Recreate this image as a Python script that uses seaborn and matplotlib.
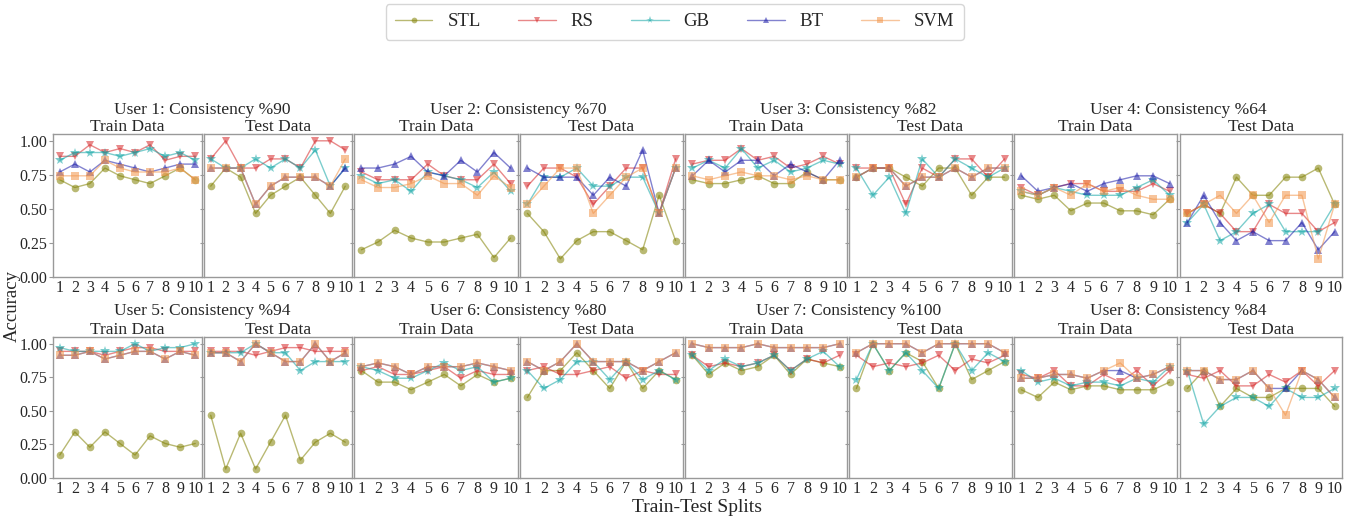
import numpy as np
import pandas as pd
import matplotlib
matplotlib.use("Agg")
import matplotlib.pyplot as plt
from matplotlib.lines import Line2D
import seaborn as sns

# ---------------- data ----------------
METHODS = ["STL", "RS", "GB", "BT", "SVM"]
SPLITS = list(range(1, 11))
CONSISTENCY = [90, 70, 82, 64, 94, 80, 100, 84]

STL_TRAIN = [
    [0.714, 0.657, 0.686, 0.800, 0.743, 0.714, 0.686, 0.743, 0.800, 0.714],
    [0.200, 0.257, 0.343, 0.286, 0.257, 0.257, 0.286, 0.314, 0.143, 0.286],
    [0.714, 0.686, 0.686, 0.714, 0.743, 0.686, 0.686, 0.771, 0.714, 0.714],
    [0.600, 0.571, 0.600, 0.486, 0.543, 0.543, 0.486, 0.486, 0.457, 0.571],
    [0.171, 0.343, 0.229, 0.343, 0.257, 0.171, 0.314, 0.257, 0.229, 0.257],
    [0.800, 0.714, 0.714, 0.657, 0.714, 0.771, 0.686, 0.771, 0.714, 0.743],
    [0.914, 0.771, 0.857, 0.800, 0.829, 0.914, 0.771, 0.886, 0.857, 0.829],
    [0.657, 0.600, 0.714, 0.657, 0.686, 0.686, 0.657, 0.657, 0.657, 0.714],
]
STL_TEST = [
    [0.667, 0.800, 0.733, 0.467, 0.600, 0.667, 0.733, 0.600, 0.467, 0.667],
    [0.467, 0.333, 0.133, 0.267, 0.333, 0.333, 0.267, 0.200, 0.600, 0.267],
    [0.733, 0.800, 0.800, 0.733, 0.667, 0.800, 0.800, 0.600, 0.733, 0.733],
    [0.467, 0.533, 0.467, 0.733, 0.600, 0.600, 0.733, 0.733, 0.800, 0.533],
    [0.467, 0.067, 0.333, 0.067, 0.267, 0.467, 0.133, 0.267, 0.333, 0.267],
    [0.600, 0.800, 0.800, 0.933, 0.800, 0.667, 0.867, 0.667, 0.800, 0.733],
    [0.667, 1.000, 0.800, 0.933, 0.867, 0.667, 1.000, 0.733, 0.800, 0.867],
    [0.667, 0.800, 0.533, 0.667, 0.600, 0.600, 0.667, 0.667, 0.667, 0.533],
]
RS_TRAIN = [
    [0.886, 0.886, 0.971, 0.914, 0.943, 0.914, 0.971, 0.857, 0.886, 0.886],
    [0.771, 0.714, 0.714, 0.714, 0.829, 0.743, 0.714, 0.714, 0.829, 0.686],
    [0.829, 0.857, 0.857, 0.943, 0.857, 0.886, 0.800, 0.829, 0.886, 0.829],
    [0.657, 0.600, 0.657, 0.686, 0.686, 0.629, 0.629, 0.629, 0.686, 0.629],
    [0.943, 0.943, 0.943, 0.914, 0.943, 0.971, 0.971, 0.943, 0.943, 0.943],
    [0.800, 0.829, 0.771, 0.771, 0.800, 0.829, 0.743, 0.800, 0.771, 0.771],
    [0.914, 0.829, 0.857, 0.829, 0.857, 0.914, 0.800, 0.886, 0.857, 0.914],
    [0.771, 0.743, 0.800, 0.686, 0.686, 0.771, 0.714, 0.800, 0.686, 0.800],
]
RS_TEST = [
    [0.867, 1.000, 0.800, 0.800, 0.867, 0.867, 0.800, 1.000, 1.000, 0.933],
    [0.667, 0.800, 0.800, 0.733, 0.533, 0.667, 0.800, 0.800, 0.467, 0.867],
    [0.800, 0.800, 0.800, 0.533, 0.800, 0.733, 0.867, 0.867, 0.733, 0.867],
    [0.467, 0.533, 0.467, 0.333, 0.333, 0.533, 0.467, 0.467, 0.333, 0.400],
    [0.943, 0.943, 0.943, 0.914, 0.943, 0.971, 0.971, 0.943, 0.943, 0.943],
    [0.800, 0.829, 0.771, 0.771, 0.800, 0.829, 0.743, 0.800, 0.771, 0.771],
    [0.914, 0.829, 0.857, 0.829, 0.857, 0.914, 0.800, 0.886, 0.857, 0.914],
    [0.771, 0.743, 0.800, 0.686, 0.686, 0.771, 0.714, 0.800, 0.686, 0.800],
]
GB_TRAIN = [
    [0.857, 0.914, 0.914, 0.914, 0.886, 0.914, 0.943, 0.886, 0.914, 0.857],
    [0.743, 0.686, 0.714, 0.629, 0.771, 0.743, 0.714, 0.657, 0.771, 0.629],
    [0.800, 0.857, 0.800, 0.943, 0.800, 0.857, 0.771, 0.800, 0.857, 0.829],
    [0.629, 0.600, 0.657, 0.629, 0.600, 0.600, 0.600, 0.657, 0.714, 0.600],
    [0.971, 0.943, 0.943, 0.943, 0.943, 1.000, 0.943, 0.971, 0.971, 1.000],
    [0.829, 0.800, 0.743, 0.743, 0.800, 0.857, 0.800, 0.829, 0.714, 0.743],
    [0.914, 0.800, 0.886, 0.829, 0.857, 0.914, 0.800, 0.886, 0.943, 0.829],
    [0.800, 0.714, 0.743, 0.686, 0.714, 0.714, 0.686, 0.743, 0.714, 0.829],
]
GB_TEST = [
    [0.867, 0.800, 0.800, 0.867, 0.800, 0.867, 0.800, 0.933, 0.667, 0.800],
    [0.533, 0.733, 0.733, 0.800, 0.667, 0.667, 0.733, 0.733, 0.467, 0.800],
    [0.800, 0.600, 0.733, 0.467, 0.867, 0.733, 0.867, 0.800, 0.733, 0.800],
    [0.400, 0.533, 0.267, 0.333, 0.467, 0.533, 0.333, 0.333, 0.333, 0.533],
    [0.933, 0.933, 0.933, 1.000, 0.933, 0.933, 0.800, 0.867, 0.867, 0.867],
    [0.800, 0.667, 0.733, 0.867, 0.867, 0.733, 0.867, 0.733, 0.800, 0.733],
    [0.733, 1.000, 0.800, 0.933, 0.800, 0.667, 1.000, 0.800, 0.933, 0.867],
    [0.800, 0.400, 0.533, 0.600, 0.600, 0.533, 0.667, 0.600, 0.600, 0.667],
]
BT_TRAIN = [
    [0.771, 0.829, 0.771, 0.857, 0.829, 0.800, 0.771, 0.800, 0.829, 0.829],
    [0.800, 0.800, 0.829, 0.886, 0.771, 0.743, 0.857, 0.771, 0.914, 0.800],
    [0.743, 0.857, 0.771, 0.857, 0.857, 0.743, 0.829, 0.771, 0.714, 0.857],
    [0.743, 0.629, 0.657, 0.686, 0.629, 0.686, 0.714, 0.743, 0.743, 0.686],
    [0.914, 0.914, 0.943, 0.886, 0.914, 0.943, 0.943, 0.886, 0.943, 0.914],
    [0.829, 0.857, 0.829, 0.771, 0.829, 0.829, 0.829, 0.857, 0.829, 0.800],
    [1.000, 0.971, 0.971, 0.971, 1.000, 0.971, 0.971, 0.971, 0.971, 1.000],
    [0.743, 0.743, 0.771, 0.771, 0.743, 0.800, 0.800, 0.743, 0.771, 0.829],
]
BT_TEST = [
    [0.800, 0.800, 0.800, 0.533, 0.667, 0.733, 0.733, 0.733, 0.667, 0.800],
    [0.800, 0.733, 0.733, 0.733, 0.600, 0.733, 0.667, 0.933, 0.467, 0.800],
    [0.733, 0.800, 0.800, 0.667, 0.733, 0.733, 0.800, 0.733, 0.800, 0.800],
    [0.400, 0.600, 0.400, 0.267, 0.333, 0.267, 0.267, 0.400, 0.200, 0.333],
    [0.933, 0.933, 0.867, 1.000, 0.933, 0.867, 0.867, 1.000, 0.867, 0.933],
    [0.867, 0.800, 0.867, 1.000, 0.867, 0.867, 0.867, 0.800, 0.867, 0.933],
    [0.933, 1.000, 1.000, 1.000, 0.933, 1.000, 1.000, 1.000, 1.000, 0.933],
    [0.800, 0.800, 0.733, 0.733, 0.800, 0.667, 0.667, 0.800, 0.733, 0.600],
]
SVM_TRAIN = [
    [0.743, 0.743, 0.743, 0.857, 0.800, 0.771, 0.771, 0.771, 0.800, 0.714],
    [0.714, 0.657, 0.657, 0.686, 0.743, 0.686, 0.686, 0.600, 0.743, 0.657],
    [0.743, 0.714, 0.743, 0.771, 0.743, 0.743, 0.714, 0.743, 0.714, 0.714],
    [0.629, 0.600, 0.657, 0.600, 0.686, 0.629, 0.657, 0.600, 0.571, 0.571],
    [0.914, 0.914, 0.943, 0.886, 0.914, 0.943, 0.943, 0.886, 0.943, 0.914],
    [0.829, 0.857, 0.829, 0.771, 0.829, 0.829, 0.829, 0.857, 0.829, 0.800],
    [1.000, 0.971, 0.971, 0.971, 1.000, 0.971, 0.971, 0.971, 0.971, 1.000],
    [0.743, 0.743, 0.771, 0.771, 0.743, 0.800, 0.857, 0.743, 0.771, 0.829],
]
SVM_TEST = [
    [0.800, 0.800, 0.800, 0.533, 0.667, 0.733, 0.733, 0.733, 0.667, 0.867],
    [0.533, 0.667, 0.800, 0.800, 0.467, 0.600, 0.733, 0.800, 0.467, 0.800],
    [0.733, 0.800, 0.800, 0.667, 0.733, 0.733, 0.800, 0.733, 0.800, 0.800],
    [0.467, 0.533, 0.600, 0.467, 0.600, 0.400, 0.600, 0.600, 0.133, 0.533],
    [0.933, 0.933, 0.867, 1.000, 0.933, 0.867, 0.867, 1.000, 0.867, 0.933],
    [0.867, 0.800, 0.867, 1.000, 0.867, 0.867, 0.867, 0.800, 0.867, 0.933],
    [0.933, 1.000, 1.000, 1.000, 0.933, 1.000, 1.000, 1.000, 1.000, 0.933],
    [0.800, 0.800, 0.733, 0.733, 0.800, 0.667, 0.467, 0.800, 0.733, 0.600],
]

SERIES = {
    ("STL", "Train"): STL_TRAIN, ("STL", "Test"): STL_TEST,
    ("RS", "Train"): RS_TRAIN, ("RS", "Test"): RS_TEST,
    ("GB", "Train"): GB_TRAIN, ("GB", "Test"): GB_TEST,
    ("BT", "Train"): BT_TRAIN, ("BT", "Test"): BT_TEST,
    ("SVM", "Train"): SVM_TRAIN, ("SVM", "Test"): SVM_TEST,
}

rows = []
for (m, part), arr in SERIES.items():
    for u, vals in enumerate(arr):
        for s, v in zip(SPLITS, vals):
            rows.append(dict(user=u + 1, part=part, method=m, split=s, acc=v))
df = pd.DataFrame(rows)

# ---------------- style ----------------
sns.set_style("white")
plt.rcParams["font.family"] = ["Liberation Serif", "DejaVu Serif"]
plt.rcParams["axes.edgecolor"] = "0.6"
plt.rcParams["axes.linewidth"] = 1.0

PALETTE = {"STL": "olive", "RS": "tab:red", "GB": "#10a5a5",
           "BT": "#1c1ca8", "SVM": "#f2954a"}
MARKERS = {"STL": "o", "RS": "v", "GB": "*", "BT": "^", "SVM": "s"}
MSIZE = {"STL": 5.5, "RS": 5.5, "GB": 7.5, "BT": 5.5, "SVM": 5.5}
ALPHA = 0.55

W, H = 1364, 521
fig = plt.figure(figsize=(W / 100, H / 100), dpi=100)

LEFTS = [53, 204, 354, 520, 685, 849, 1014, 1180]
RIGHTS = [202, 352, 518, 683, 847, 1012, 1177, 1342]
ROWS = [(134, 277), (337, 478)]
USER_Y = [114, 315]

for r, (top, bot) in enumerate(ROWS):
    for c in range(8):
        user = r * 4 + c // 2 + 1
        part = "Train" if c % 2 == 0 else "Test"
        l, rr = LEFTS[c], RIGHTS[c]
        ax = fig.add_axes([l / W, 1 - bot / H, (rr - l) / W, (bot - top) / H])
        sub = df[(df.user == user) & (df.part == part)]
        for m in METHODS:
            sns.lineplot(data=sub[sub.method == m], x="split", y="acc",
                         color=PALETTE[m], marker=MARKERS[m], alpha=ALPHA,
                         linewidth=1.0, markersize=MSIZE[m], markeredgewidth=0,
                         ax=ax, legend=False)
        ax.set_ylim(0, 1.05)
        ax.set_xticks(SPLITS)
        ax.set_xticklabels([str(s) for s in SPLITS])
        ax.set_yticks([0, 0.25, 0.5, 0.75, 1.0])
        ax.set_xlabel("")
        ax.set_ylabel("")
        ax.tick_params(axis="x", length=0, pad=2.5, labelsize=11.5)
        ax.tick_params(axis="y", length=3, pad=1, labelsize=11.5, color="0.6",
                       left=True)
        if c == 0:
            ax.set_yticklabels(["0.00", "0.25", "0.50", "0.75", "1.00"])
        else:
            ax.set_yticklabels([])
        ax.set_title(f"{part} Data", fontsize=12.5, pad=2.5)
        if c % 2 == 0:
            cx = (LEFTS[c] + RIGHTS[c + 1]) / 2
            fig.text(cx / W, 1 - USER_Y[r] / H,
                     f"User {user}: Consistency %{CONSISTENCY[user - 1]}",
                     ha="center", va="baseline", fontsize=12.5)

fig.text(12 / W, 1 - 306 / H, "Accuracy", rotation=90, ha="center",
         va="center", fontsize=13.5)
fig.text(697 / W, 1 - 507 / H, "Train-Test Splits", ha="center",
         va="center", fontsize=14)

handles = [Line2D([], [], color=PALETTE[m], marker=MARKERS[m], alpha=ALPHA,
                  linewidth=1.0, markersize=MSIZE[m], markeredgewidth=0)
           for m in METHODS]
fig.legend(handles, METHODS, loc="upper center",
           bbox_to_anchor=(674.5 / W, 1 - 4 / H), ncol=5, fontsize=13.5,
           markerscale=0.75, frameon=True, borderaxespad=0,
           borderpad=0.5)

fig.savefig("out.png", dpi=100)
